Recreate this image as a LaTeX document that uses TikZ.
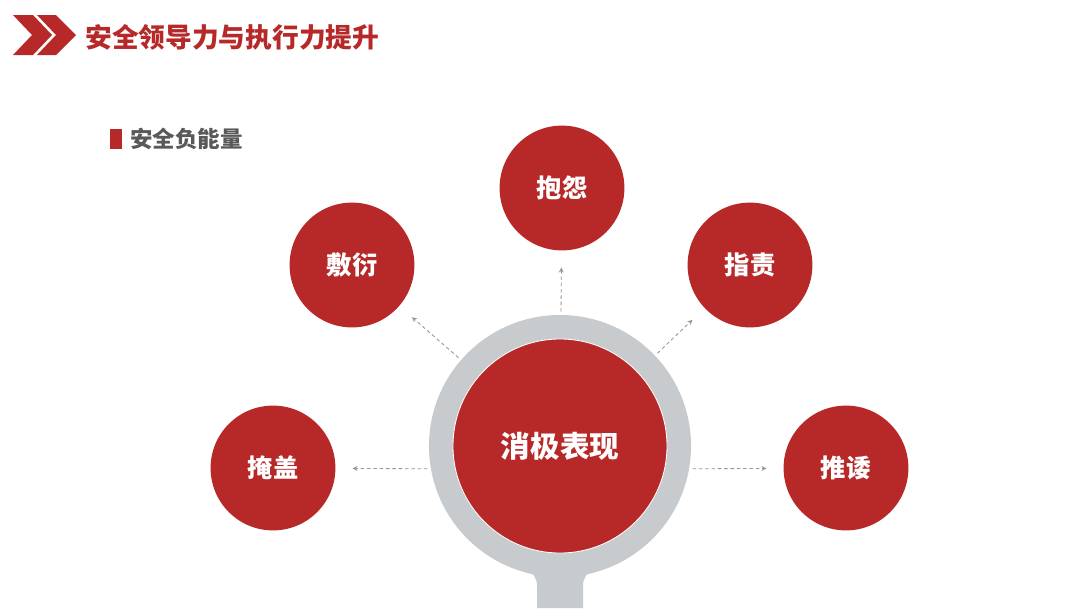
\documentclass[tikz,border=0pt]{standalone}
\usepackage{fontspec}
\usepackage{tikz}
\usetikzlibrary{shapes,arrows}
\newfontfamily\cjk{Noto Sans CJK SC}
\definecolor{safetyred}{RGB}{183, 41, 41}
\definecolor{ringgray}{RGB}{200, 203, 206}
\definecolor{dashgray}{RGB}{150, 150, 150}
\definecolor{subgray}{RGB}{89, 89, 89}

\begin{document}
\begin{tikzpicture}[
    x=0.025cm, y=-0.025cm,
    every node/.style={align=center, inner sep=0pt},
    behavior/.style={circle, minimum size=3.12cm, fill=safetyred, text=white, font=\cjk\bfseries\fontsize{18pt}{18pt}\selectfont},
    core/.style={circle, minimum size=5.35cm, fill=safetyred, draw=white, line width=0.6pt, text=white, font=\cjk\bfseries\fontsize{21pt}{21pt}\selectfont},
    lens/.style={circle, minimum size=6.55cm, fill=ringgray},
    arrow/.style={->, >=stealth, draw=dashgray, line width=0.6pt, dash pattern=on 2.5pt off 2pt, shorten >=0.42cm, shorten <=0.08cm}
]

% Page
\fill[white] (0,0) rectangle (1080,608);
\useasboundingbox (0,0) rectangle (1080,608);

% Header
\fill[safetyred] (13,15) -- (33,15) -- (52,35) -- (33,55) -- (13,55) -- (32,35) -- cycle;
\fill[safetyred] (37,15) -- (56,15) -- (76,35) -- (56,55) -- (37,55) -- (56,35) -- cycle;
\node[anchor=west, text=safetyred, font=\cjk\bfseries\fontsize{19pt}{19pt}\selectfont] (title) at (85,37) {安全领导力与执行力提升};

% Section label
\fill[safetyred] (110,129) rectangle (122,149);
\node[anchor=west, text=subgray, font=\cjk\bfseries\fontsize{16pt}{16pt}\selectfont] (section) at (130,139) {安全负能量};

% Magnifier
\fill[ringgray] (537,608) -- (537,586) .. controls (537,578) and (533,574) .. (529,569) -- (591,569) .. controls (587,574) and (583,578) .. (583,586) -- (583,608) -- cycle;
\node[lens] (ring) at (560,446) {};
\node[core] (negative) at (560,446) {消极表现};

% Behaviours
\node[behavior] (complain) at (562,188) {抱怨};
\node[behavior] (perfunctory) at (352,265) {敷衍};
\node[behavior] (blame) at (750,265) {指责};
\node[behavior] (cover_up) at (273,468) {掩盖};
\node[behavior] (shirk) at (846,468) {推诿};

% Connections
\draw[arrow] (ring) -- (complain);
\draw[arrow] (ring) -- (perfunctory);
\draw[arrow] (ring) -- (blame);
\draw[arrow] (ring.190) -- (cover_up);
\draw[arrow] (ring.-10) -- (shirk);

\end{tikzpicture}
\end{document}
